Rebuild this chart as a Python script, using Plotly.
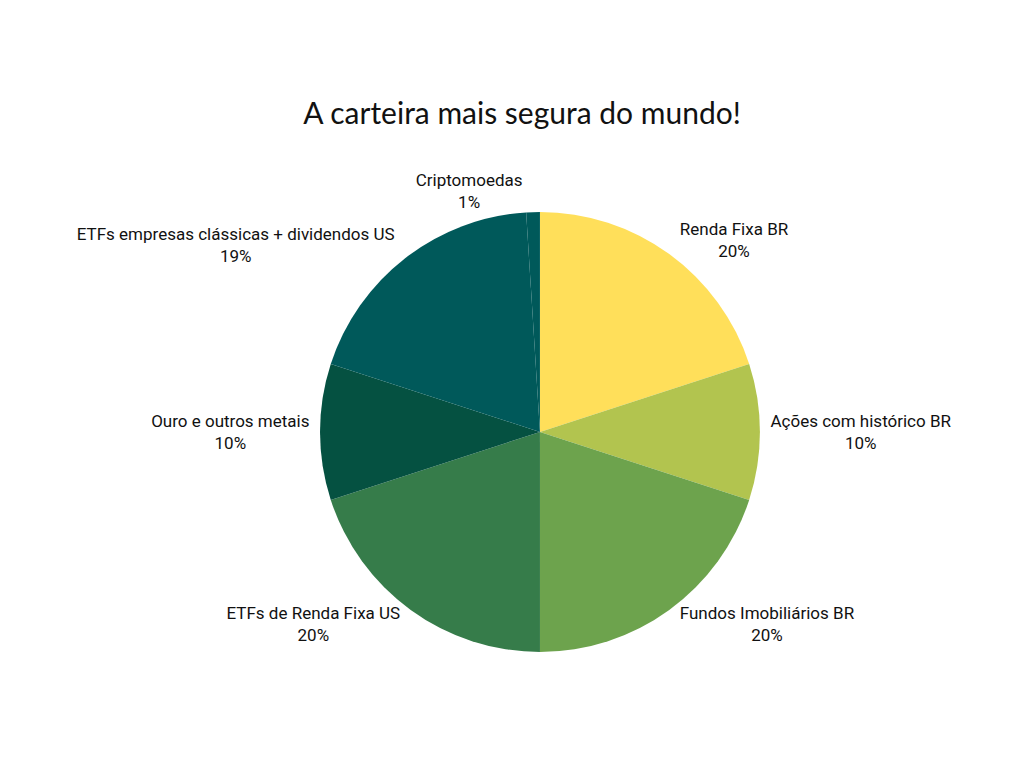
import plotly.graph_objects as go

labels = ["Renda Fixa BR", "Ações com histórico BR", "Fundos Imobiliários BR",
          "ETFs de Renda Fixa US", "Ouro e outros metais",
          "ETFs empresas clássicas + dividendos US", "Criptomoedas"]
values = [20, 10, 20, 20, 10, 19, 1]
colors = ["#FFDF5A", "#B2C44F", "#6DA34D", "#367C4A", "#055141", "#00595A", "#00595A"]

fig = go.Figure(go.Pie(
    labels=labels, values=values, sort=False, direction="clockwise", rotation=0,
    marker=dict(colors=colors, line=dict(width=0)),
    textposition="outside", texttemplate="%{label}<br>%{percent:.0%}",
    textfont=dict(family="Roboto", size=17, color="#111"),
    domain=dict(x=[0.3047, 0.7343], y=[0.1615, 0.7344]),
    showlegend=False, hoverinfo="label+percent"))
fig.update_layout(
    width=1024, height=768, margin=dict(l=0, r=0, t=0, b=0),
    paper_bgcolor="white",
    title=dict(text="A carteira mais segura do mundo!", x=0.502, y=0.863, xanchor="center",
               yanchor="middle",
               font=dict(family="Lato", size=30, color="#111")))
fig.write_html("out.html")
